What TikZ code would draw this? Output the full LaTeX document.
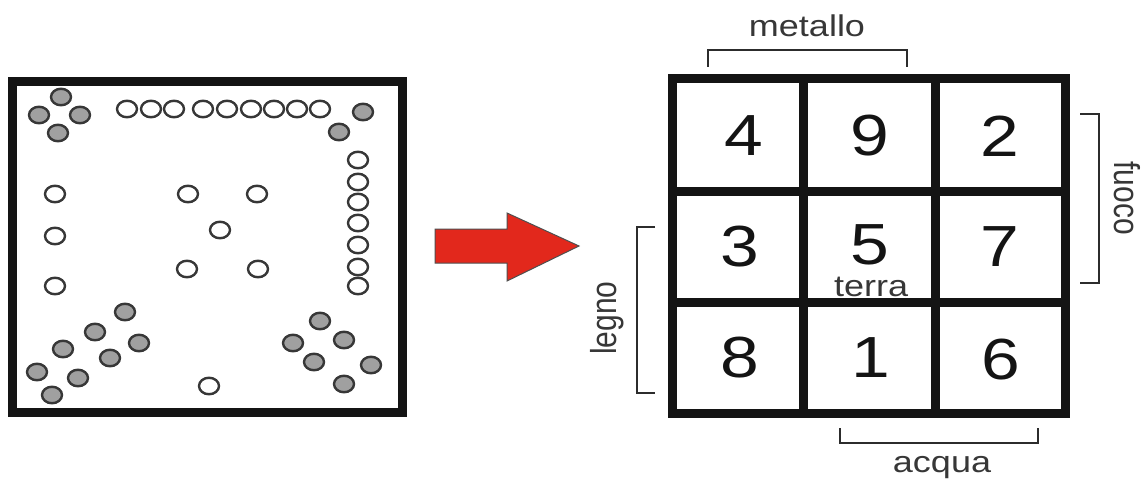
\documentclass[tikz,border=0pt]{standalone}
\usepackage{fontspec}
\usepackage{graphicx}
\setmainfont{Liberation Sans}
\usetikzlibrary{shapes.geometric}
\definecolor{ink}{HTML}{141414}
\definecolor{dotgray}{HTML}{A0A0A0}
\definecolor{arrowred}{HTML}{E2281C}
% horizontally widened text
\newcommand{\widetext}[1]{\scalebox{1.2}[1]{#1}}
\newcommand{\talltext}[1]{\scalebox{1}[1.2]{#1}}
\begin{document}
\begin{tikzpicture}[x=1pt,y=-1pt,
  circ/.style={ellipse, draw=ink!85, line width=2.4pt, minimum width=20pt,
               minimum height=16.5pt, inner sep=0pt, outer sep=0pt},
  opendot/.style={circ, fill=white},
  graydot/.style={circ, fill=dotgray},
  boxframe/.style={draw=ink, line width=9pt, line join=miter},
  digit/.style={font=\fontsize{58}{60}\selectfont, text=ink, inner sep=0pt},
  word/.style={font=\fontsize{30}{32}\selectfont, text=ink!85, inner sep=0pt},
  bracket/.style={draw=ink!90, line width=2.5pt, line join=miter}]
\useasboundingbox[fill=white] (0,0) rectangle (1145,484);

% ---- left board ----
\draw[boxframe] (12,82) rectangle (402,412.5);

% grey counters
\foreach \x/\y [count=\i] in {61/97, 39/115, 80/115, 58/133, 363/112, 339/132,
    125/312, 95/332, 139/343, 63/349, 110/358, 37/372, 78/378, 52/395,
    320/321, 293/343, 344/340, 314/362, 371/365, 344/384}
  \node[graydot] (g\i) at (\x,\y) {};

% white counters
\foreach \x/\y [count=\i] in {127/109, 151/109, 174/109, 203/109, 227/109,
    251/109, 274/109, 297/109, 320/109,
    358/160, 358/182, 358/202, 358/223, 358/245, 358/267, 358/286,
    55/194, 55/236, 55/286,
    188/194, 257/194, 220/230, 187/269, 258/269, 209/386}
  \node[opendot] (w\i) at (\x,\y) {};

% ---- arrow ----
\draw[fill=arrowred, draw=ink!75, line width=1pt, line join=miter]
  (435,229) -- (507,229) -- (507,213) -- (579,246) -- (507,281)
  -- (507,263) -- (435,263) -- cycle;

% ---- magic square ----
\draw[boxframe] (672.5,79) rectangle (1065.5,413.5);
\draw[boxframe] (803,79) -- (803,413.5);
\draw[boxframe] (935.5,79) -- (935.5,413.5);
\draw[boxframe] (672.5,191) -- (1065.5,191);
\draw[boxframe] (672.5,302) -- (1065.5,302);

\node[digit] (n4) at (744,136) {\widetext{4}};
\node[digit] (n9) at (870,136) {\widetext{9}};
\node[digit] (n2) at (1000,136) {\widetext{2}};
\node[digit] (n3) at (740,247) {\widetext{3}};
\node[digit] (n5) at (870,245) {\widetext{5}};
\node[digit] (n7) at (1000,247) {\widetext{7}};
\node[digit] (n8) at (740,358) {\widetext{8}};
\node[digit] (n1) at (871,358) {\widetext{1}};
\node[digit] (n6) at (1001,360) {\widetext{6}};

\node[word, anchor=base] (terra) at (871,296) {\widetext{terra}};

% ---- element brackets ----
\draw[bracket] (708,67) -- (708,50) -- (907,50) -- (907,67);
\node[word, anchor=base] (metallo) at (807,37) {\widetext{metallo}};

\draw[bracket] (1080,114) -- (1099,114) -- (1099,283) -- (1080,283);
\node[word, anchor=base, rotate=-90] (fuoco) at (1114,198) {\talltext{fuoco}};

\draw[bracket] (655,227) -- (637,227) -- (637,393) -- (655,393);
\node[word, anchor=base, rotate=90] (legno) at (616,318) {\talltext{legno}};

\draw[bracket] (840,428) -- (840,443) -- (1038,443) -- (1038,428);
\node[word, anchor=base] (acqua) at (942,472) {\widetext{acqua}};
\end{tikzpicture}
\end{document}
